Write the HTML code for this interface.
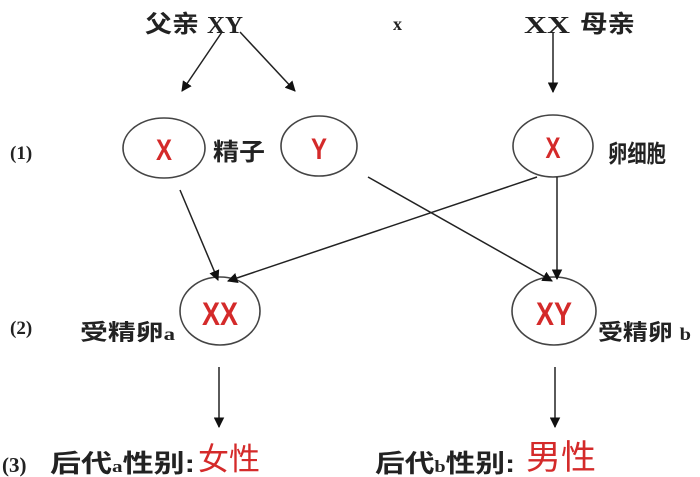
<!DOCTYPE html>
<html><head><meta charset="utf-8"><style>
html,body{margin:0;padding:0;background:#fff;width:700px;height:477px;overflow:hidden}
svg{display:block}
.t{font-family:"Liberation Serif","Noto Serif CJK SC",serif;fill:#222;font-weight:bold}
.c{font-family:"Liberation Sans","Noto Sans CJK SC",sans-serif;fill:#222;font-weight:bold}
.r{font-family:"Liberation Sans","Noto Sans CJK SC",sans-serif;fill:#d42a2a;font-weight:bold}
</style></head><body>
<svg width="700" height="477" viewBox="0 0 700 477">
<defs><marker id="a" viewBox="0 0 10 10" refX="9" refY="5" markerWidth="7" markerHeight="7" orient="auto"><path d="M0,0 L10,5 L0,10 z" fill="#111"/></marker></defs>
<g class="c" font-size="24">
<text x="145" y="32" textLength="54" lengthAdjust="spacingAndGlyphs">父亲</text>
<text x="580" y="32" textLength="55" lengthAdjust="spacingAndGlyphs">母亲</text>
<text x="213" y="160" textLength="52" lengthAdjust="spacingAndGlyphs">精子</text>
<text x="608" y="162" textLength="58" lengthAdjust="spacingAndGlyphs">卵细胞</text>
</g>
<g class="t" font-size="24">
<text x="207" y="33" textLength="36" lengthAdjust="spacingAndGlyphs">XY</text>
<text x="393" y="30" font-size="18">x</text>
<text x="524" y="33" textLength="46" lengthAdjust="spacingAndGlyphs">XX</text>
<text x="10" y="159" font-size="19">(1)</text>
<text x="10" y="334" font-size="19">(2)</text>
<text x="2" y="472" font-size="21">(3)</text>
</g>
<text class="c" x="80" y="340" font-size="22" textLength="95" lengthAdjust="spacingAndGlyphs">受精卵<tspan font-family="Liberation Serif" font-size="18">a</tspan></text>
<text class="c" x="598" y="340" font-size="22" textLength="93" lengthAdjust="spacingAndGlyphs">受精卵 <tspan font-family="Liberation Serif" font-size="18">b</tspan></text>
<text class="c" x="50" y="472" font-size="25" textLength="145" lengthAdjust="spacingAndGlyphs">后代<tspan font-size="17" font-family="Liberation Serif">a</tspan>性别:</text>
<text class="c" x="375" y="472" font-size="25" textLength="140" lengthAdjust="spacingAndGlyphs">后代<tspan font-size="17" font-family="Liberation Serif">b</tspan>性别:</text>
<text class="r" x="198" y="470" font-size="31" style="font-weight:normal" textLength="62" lengthAdjust="spacingAndGlyphs">女性</text>
<text class="r" x="526" y="469" font-size="34" style="font-weight:normal" textLength="70" lengthAdjust="spacingAndGlyphs">男性</text>
<g fill="none" stroke="#444" stroke-width="1.6">
<ellipse cx="164" cy="148" rx="41" ry="30"/>
<ellipse cx="319" cy="146" rx="38" ry="30"/>
<ellipse cx="553" cy="146" rx="40" ry="31"/>
<ellipse cx="220" cy="311" rx="40" ry="34"/>
<ellipse cx="554" cy="311" rx="42" ry="34"/>
</g>
<g class="r" font-size="30" text-anchor="middle">
<text x="164" y="160" textLength="16" lengthAdjust="spacingAndGlyphs">X</text>
<text x="319" y="159" textLength="16" lengthAdjust="spacingAndGlyphs">Y</text>
<text x="553" y="158" textLength="15" lengthAdjust="spacingAndGlyphs">X</text>
<text x="220" y="325" font-size="32" textLength="36" lengthAdjust="spacingAndGlyphs">XX</text>
<text x="554" y="325" font-size="32" textLength="36" lengthAdjust="spacingAndGlyphs">XY</text>
</g>
<g stroke="#222" stroke-width="1.5" marker-end="url(#a)">
<line x1="222" y1="32" x2="182" y2="91"/>
<line x1="240" y1="32" x2="295" y2="91"/>
<line x1="553" y1="32" x2="553" y2="92"/>
<line x1="180" y1="190" x2="218" y2="280"/>
<line x1="537" y1="177" x2="228" y2="281"/>
<line x1="368" y1="177" x2="552" y2="281"/>
<line x1="557" y1="177" x2="557" y2="279"/>
<line x1="219" y1="367" x2="219" y2="427"/>
<line x1="555" y1="367" x2="555" y2="427"/>
</g>
</svg>
</body></html>
